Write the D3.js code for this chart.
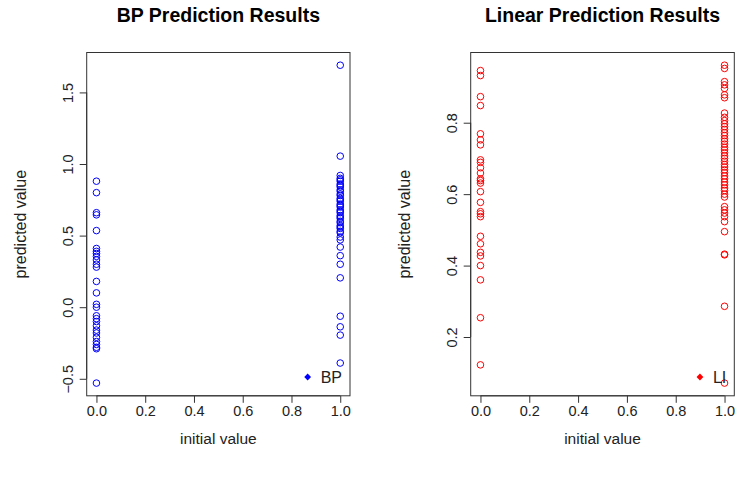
<!DOCTYPE html>
<html>
<head>
<meta charset="utf-8">
<script src="https://cdn.jsdelivr.net/npm/d3@7"></script>
<style>
  html, body { margin: 0; padding: 0; background: #fff; }
  svg { display: block; font-family: "Liberation Sans", Arial, sans-serif; }
</style>
</head>
<body>
<svg id="chart" width="737" height="479"></svg>
<script>
// Predicted values per class (initial value 0 or 1), BP network
const bpClass0 = [0.88, 0.80, 0.66, 0.645, 0.535, 0.41, 0.39, 0.375, 0.355, 0.33, 0.30, 0.28,
  0.18, 0.10, 0.02, 0.0, -0.06, -0.08, -0.10, -0.13, -0.16, -0.18, -0.21, -0.24, -0.26, -0.28, -0.29, -0.53];
const bpClass1 = [1.69, 1.055, 0.92, 0.90, 0.89, 0.88, 0.86, 0.85, 0.84, 0.82, 0.81, 0.79, 0.78,
  0.76, 0.75, 0.74, 0.72, 0.71, 0.70, 0.68, 0.67, 0.66, 0.64, 0.63, 0.62, 0.60, 0.59, 0.57,
  0.56, 0.55, 0.53, 0.52, 0.49, 0.47, 0.42, 0.36, 0.30, 0.205, -0.063, -0.137, -0.195, -0.39];

// Predicted values per class, linear model
const lmClass0 = [0.946, 0.932, 0.873, 0.848, 0.769, 0.752, 0.738, 0.696, 0.689, 0.674, 0.659,
  0.643, 0.638, 0.631, 0.607, 0.577, 0.551, 0.545, 0.537, 0.482, 0.461, 0.437, 0.427, 0.400,
  0.360, 0.254, 0.122];
const lmClass1 = [0.961, 0.952, 0.915, 0.906, 0.896, 0.878, 0.870, 0.827, 0.815, 0.806, 0.797,
  0.789, 0.781, 0.772, 0.764, 0.755, 0.748, 0.740, 0.731, 0.724, 0.716, 0.707, 0.700, 0.692,
  0.683, 0.676, 0.668, 0.660, 0.651, 0.643, 0.634, 0.626, 0.617, 0.610, 0.600, 0.592, 0.565,
  0.556, 0.547, 0.537, 0.523, 0.495, 0.432, 0.430, 0.286, 0.071];

const xTicks = [0.0, 0.2, 0.4, 0.6, 0.8, 1.0];
const bpYTicks = [-0.5, 0.0, 0.5, 1.0, 1.5];
const lmYTicks = [0.2, 0.4, 0.6, 0.8];

const panels = [
  { title: "BP Prediction Results", legend: "BP", color: "#0000ff",
    groups: [bpClass0, bpClass1], yTicks: bpYTicks, left: 86.7, right: 350 },
  { title: "Linear Prediction Results", legend: "LI", color: "#ff0000",
    groups: [lmClass0, lmClass1], yTicks: lmYTicks, left: 470.7, right: 734.3 }
];

const plotTop = 52.5, plotBottom = 395.8;
const svg = d3.select("#chart");
const ink = "#222";

// R-style axis range: data extent widened by 4% on each side
function padded(ext) {
  const d = (ext[1] - ext[0]) * 0.04;
  return [ext[0] - d, ext[1] + d];
}

panels.forEach(p => {
  const g = svg.append("g");
  const all = p.groups.flat();
  const x = d3.scaleLinear().domain(padded([0, 1])).range([p.left, p.right]);
  const y = d3.scaleLinear().domain(padded(d3.extent(all))).range([plotBottom, plotTop]);
  const cx = (p.left + p.right) / 2;

  // x axis
  const xa = g.append("g").attr("transform", `translate(0,${plotBottom})`)
    .call(d3.axisBottom(x).tickValues(xTicks).tickFormat(d3.format(".1f")).tickSize(7).tickPadding(3));
  xa.select(".domain").attr("d", `M${x(xTicks[0])},0H${x(xTicks[xTicks.length - 1])}`);
  // y axis
  const ya = g.append("g").attr("transform", `translate(${p.left},0)`)
    .call(d3.axisLeft(y).tickValues(p.yTicks).tickFormat(d3.format(".1f")).tickSize(7));
  ya.select(".domain").attr("d", `M0,${y(p.yTicks[0])}V${y(p.yTicks[p.yTicks.length - 1])}`);
  ya.selectAll(".tick text")
    .attr("x", null).attr("dy", null)
    .attr("text-anchor", "middle")
    .attr("transform", "translate(-14,0) rotate(-90)");
  [xa, ya].forEach(a => {
    a.selectAll(".domain, .tick line").attr("stroke", "#333");
    a.selectAll("text").attr("font-size", 14.5).attr("fill", ink)
      .attr("font-family", "'Liberation Sans', Arial, sans-serif");
  });

  // plot frame
  g.append("rect").attr("x", p.left).attr("y", plotTop)
    .attr("width", p.right - p.left).attr("height", plotBottom - plotTop)
    .attr("fill", "none").attr("stroke", "#333").attr("stroke-width", 1);

  // points
  p.groups.forEach((vals, k) => {
    g.append("g").selectAll("circle").data(vals).join("circle")
      .attr("cx", x(k)).attr("cy", d => y(d)).attr("r", 3.3)
      .attr("fill", "none").attr("stroke", p.color).attr("stroke-width", 1);
  });

  // titles and axis labels
  g.append("text").attr("x", cx).attr("y", 21.5).attr("text-anchor", "middle")
    .attr("font-size", 19.5).attr("font-weight", "bold").attr("fill", "#000").text(p.title);
  g.append("text").attr("x", cx).attr("y", 443.5).attr("text-anchor", "middle")
    .attr("font-size", 15.5).attr("fill", ink).text("initial value");
  g.append("text").attr("transform", `translate(${p.left - 61},${(plotTop + plotBottom) / 2}) rotate(-90)`)
    .attr("text-anchor", "middle").attr("font-size", 16).attr("fill", ink).text("predicted value");

  // legend (bottom right, no frame)
  const lt = g.append("text").attr("x", p.right - 8).attr("y", 383).attr("text-anchor", "end")
    .attr("font-size", 16).attr("fill", ink).text(p.legend);
  const tw = lt.node().getComputedTextLength();
  const lx = p.right - 8 - tw - 13, ly = 377;
  g.append("path").attr("d", `M${lx},${ly - 3.4}L${lx + 3.4},${ly}L${lx},${ly + 3.4}L${lx - 3.4},${ly}Z`)
    .attr("fill", p.color);
});
</script>
</body>
</html>
